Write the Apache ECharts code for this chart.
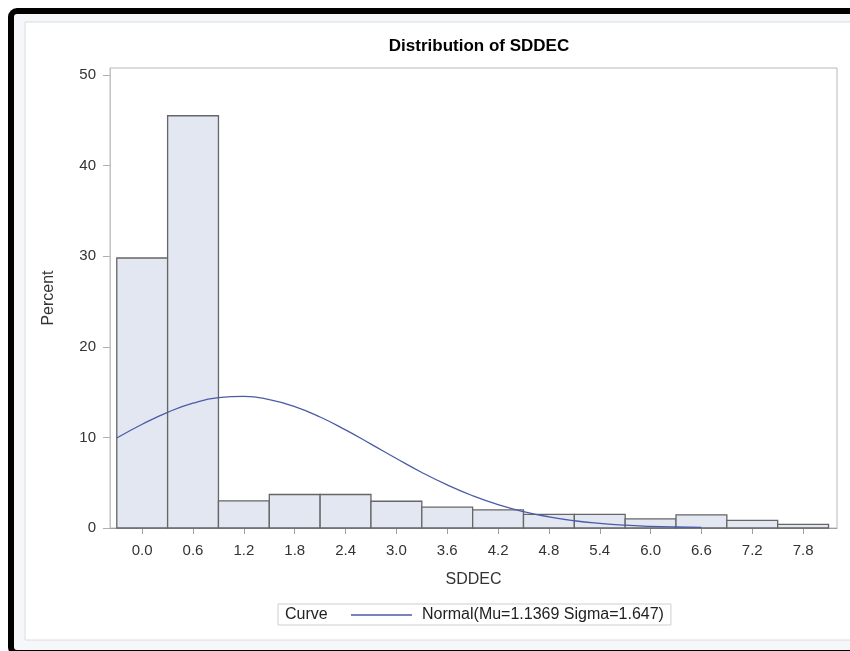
<!DOCTYPE html>
<html>
<head>
<meta charset="utf-8">
<script src="https://cdn.jsdelivr.net/npm/echarts@6/dist/echarts.min.js"></script>
<style>
html,body{margin:0;padding:0;background:#fff;}
#chart{width:850px;height:651px;}
</style>
</head>
<body>
<div id="chart"></div>
<script>
// ---- data ----
var binCenters = [0.0, 0.6, 1.2, 1.8, 2.4, 3.0, 3.6, 4.2, 4.8, 5.4, 6.0, 6.6, 7.2, 7.8];
var percents   = [29.8, 45.5, 3.0, 3.7, 3.7, 2.95, 2.3, 2.0, 1.5, 1.5, 1.0, 1.45, 0.85, 0.4];
var binWidth = 0.6;
var curveX = [-0.3, 0.0, 0.3, 0.6, 0.9, 1.2, 1.5, 1.8, 2.1, 2.4, 2.7, 3.0, 3.3, 3.6, 3.9, 4.2, 4.5, 4.8, 5.1, 5.4, 5.7, 6.0, 6.3, 6.6];
var curveY = [9.93, 11.45, 12.77, 13.78, 14.38, 14.52, 14.18, 13.40, 12.25, 10.83, 9.26, 7.67, 6.13, 4.75, 3.56, 2.58, 1.81, 1.23, 0.80, 0.51, 0.31, 0.19, 0.11, 0.06];
var xTickValues = [0.0, 0.6, 1.2, 1.8, 2.4, 3.0, 3.6, 4.2, 4.8, 5.4, 6.0, 6.6, 7.2, 7.8];
var yTickValues = [0, 10, 20, 30, 40, 50];
var titleText = 'Distribution of SDDEC';
var xName = 'SDDEC';
var yName = 'Percent';
var curveName = 'Normal(Mu=1.1369 Sigma=1.647)';
var legendTitle = 'Curve';

var barData = binCenters.map(function (c, i) { return [c, percents[i]]; });
var lineData = curveX.map(function (x, i) { return [x, curveY[i]]; });

var FONT = '"Liberation Sans", Arial, sans-serif';
var chart = echarts.init(document.getElementById('chart'), null, {renderer: 'canvas'});

chart.setOption({
  animation: false,
  backgroundColor: '#ffffff',
  textStyle: {fontFamily: FONT},
  title: {
    text: titleText,
    left: 474,
    textAlign: 'center',
    top: 33,
    textStyle: {fontSize: 17, fontWeight: 'bold', color: '#000', fontFamily: FONT}
  },
  grid: {
    left: 110, right: 13, top: 68, bottom: 123,
    show: true, borderColor: '#b8b8b8', borderWidth: 1, backgroundColor: 'transparent'
  },
  xAxis: {
    type: 'value',
    min: -0.38, max: 8.2,
    name: xName,
    nameLocation: 'middle',
    nameGap: 44,
    nameTextStyle: {fontSize: 16, color: '#333', fontFamily: FONT},
    axisLine: {show: true, onZero: false, lineStyle: {color: '#a0a0a0', width: 1}},
    axisTick: {show: true, length: 6, customValues: xTickValues, lineStyle: {color: '#a0a0a0'}},
    axisLabel: {
      customValues: xTickValues, margin: 15, fontSize: 15, color: '#333',
      formatter: function (v) { return v.toFixed(1); }
    },
    splitLine: {show: false}
  },
  yAxis: {
    type: 'value',
    min: 0, max: 50.77,
    name: yName,
    nameLocation: 'middle',
    nameGap: 53,
    nameTextStyle: {fontSize: 16, color: '#333', fontFamily: FONT},
    axisLine: {show: true, onZero: false, lineStyle: {color: '#c4c4c4', width: 1}},
    axisTick: {show: true, length: 7, customValues: yTickValues, lineStyle: {color: '#b0b0b0'}},
    axisLabel: {customValues: yTickValues, margin: 14, fontSize: 15, color: '#333'},
    splitLine: {show: false}
  },
  legend: {
    left: 278, top: 604,
    padding: [3, 7, 2, 73],
    borderColor: '#cfcfcf', borderWidth: 1,
    itemWidth: 61, itemHeight: 1.3,
    textStyle: {fontSize: 16, color: '#222', padding: [0, 0, 0, 5], fontFamily: FONT},
    data: [{name: curveName, icon: 'rect'}],
    selectedMode: false
  },
  graphic: [
    {type: 'rect', z: -100, silent: true, shape: {x: 0, y: 0, width: 850, height: 651}, style: {fill: '#ffffff'}},
    {type: 'rect', z: -99, silent: true, shape: {x: 14, y: 14, width: 850, height: 640}, style: {fill: '#f6f7fb'}},
    {type: 'rect', z: -98, silent: true, shape: {x: 25, y: 22, width: 840, height: 618}, style: {fill: '#ffffff', stroke: '#dcdcdc', lineWidth: 1}},
    {type: 'rect', z: 100, silent: true, shape: {x: 11, y: 11, width: 860, height: 642, r: 6}, style: {fill: 'none', stroke: '#000', lineWidth: 6}},
    {type: 'text', z: 100, silent: true, left: 285, top: 607, style: {text: legendTitle, fontSize: 16, fill: '#222', fontFamily: FONT}}
  ],
  series: [
    {
      type: 'custom',
      name: 'bins',
      data: barData,
      z: 2,
      renderItem: function (params, api) {
        var c = api.value(0), h = api.value(1);
        var p1 = api.coord([c - binWidth / 2, h]);
        var p2 = api.coord([c + binWidth / 2, 0]);
        return {
          type: 'rect',
          shape: {x: p1[0], y: p1[1], width: p2[0] - p1[0], height: p2[1] - p1[1]},
          style: {fill: '#e2e7f1', stroke: '#666666', lineWidth: 1.3}
        };
      }
    },
    {
      type: 'line',
      name: curveName,
      data: lineData,
      smooth: true,
      symbol: 'none',
      z: 3,
      lineStyle: {color: '#4b5ba8', width: 1.3},
      itemStyle: {color: '#4b5ba8'}
    }
  ]
});
</script>
</body>
</html>
